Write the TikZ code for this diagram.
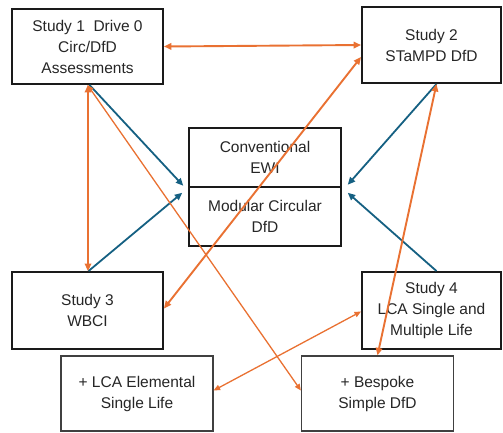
\documentclass[tikz,border=0pt]{standalone}
\usepackage{fontspec}
\setmainfont{Liberation Sans}
\usepackage{tikz}
\usetikzlibrary{arrows.meta,positioning}
\definecolor{offOrange}{HTML}{E97132}
\definecolor{offBlue}{HTML}{156082}
\definecolor{boxInk}{HTML}{1A1A1A}
\definecolor{boxGrey}{HTML}{404040}
\definecolor{txtInk}{HTML}{262626}
\tikzset{
  every picture/.append style={font=\fontsize{15.5}{21}\selectfont},
  study/.style   = {rectangle, draw=boxInk, line width=1.9pt, fill=white,
                    align=center, inner sep=0pt, text=txtInk},
  core/.style    = {rectangle, draw=boxInk, line width=1.5pt, fill=white,
                    align=center, inner sep=0pt, text=txtInk,
                    minimum width=152pt, minimum height=59pt},
  extra/.style   = {rectangle, draw=boxGrey, line width=1.2pt, fill=white,
                    align=center, inner sep=0pt, text=txtInk,
                    minimum width=152pt, minimum height=75pt},
  linkO/.style   = {draw=offOrange, line width=1.9pt, {Triangle[length=7.5pt,width=6.5pt]}-{Triangle[length=7.5pt,width=6.5pt]}},
  linkOt/.style  = {draw=offOrange, line width=1.3pt, {Triangle[length=6.5pt,width=5.5pt]}-{Triangle[length=6.5pt,width=5.5pt]}},
  linkB/.style   = {draw=offBlue, line width=1.8pt, -{Triangle[length=7.5pt,width=6.5pt]}},
}

\begin{document}
\begin{tikzpicture}[x=1pt, y=-1pt]
  \useasboundingbox (0,0) rectangle (503,432);

  % study boxes
  \node[study, minimum width=151pt, minimum height=75pt] (s1) at (87.5,46.5)
    {Study 1\ \ Drive 0\\Circ/DfD\\Assessments};
  \node[study, minimum width=139pt, minimum height=76pt] (s2) at (431.5,45)
    {Study 2\\STaMPD DfD};
  \node[study, minimum width=151pt, minimum height=77pt] (s3) at (87.5,310.5)
    {Study 3\\WBCI};
  \node[study, minimum width=139pt, minimum height=77pt] (s4) at (431.5,310.5)
    {Study 4\\LCA Single and\\Multiple Life};

  % centre
  \node[core] (conv) at (265,157.5) {Conventional\\EWI};
  \node[core] (modc) at (265,216.5) {Modular Circular\\DfD};

  % add-ons
  \node[extra] (lca)  at (137,393.5)   {+ LCA Elemental\\Single Life};
  \node[extra] (besp) at (377.5,393.5) {+ Bespoke\\Simple DfD};

  \coordinate (inL1) at ([xshift=-5pt,yshift=2pt]conv.south west);
  \coordinate (inL2) at ([xshift=-6pt,yshift=-5pt]conv.south west);
  \coordinate (inR1) at ([xshift=6pt,yshift=3pt]conv.south east);
  \coordinate (inR2) at ([xshift=6pt,yshift=-5pt]conv.south east);

  % blue feeds into the centre
  \draw[linkB] ([xshift=2pt]s1.south) -- (inL1);
  \draw[linkB] ([xshift=1pt]s3.north) -- (inL2);
  \draw[linkB] ([xshift=5pt]s2.south) -- (inR1);
  \draw[linkB] ([xshift=5pt]s4.north) -- (inR2);

  % orange links between studies
  \draw[linkO] (s1.east) -- (s2.west);
  \draw[linkO] ([xshift=0.5pt]s1.south) -- ([xshift=0.5pt]s3.north);
  \draw[linkO] ([yshift=2pt]s3.east) -- ([yshift=-12pt]s2.west);
  \draw[linkO] ([xshift=5pt]s2.south) -- (besp.north);
  \draw[linkOt] (s1.south) -- ([yshift=3pt]besp.west);
  \draw[linkOt] ([yshift=3pt]lca.east) -- ([yshift=-1pt]s4.west);
\end{tikzpicture}
\end{document}
